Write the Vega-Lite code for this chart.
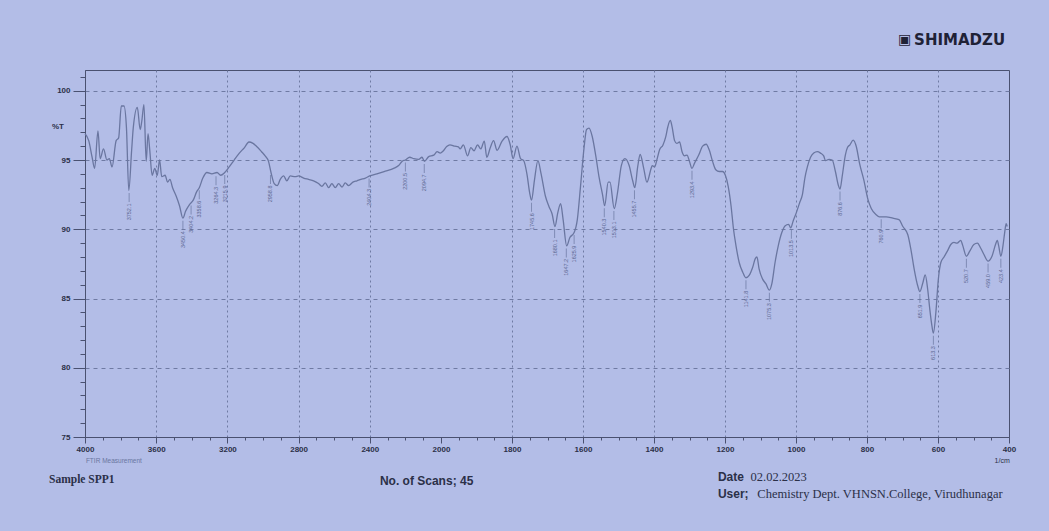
{
  "$schema": "https://vega.github.io/schema/vega-lite/v6.json",
  "autosize": {"type": "none"},
  "width": 924,
  "height": 367,
  "padding": {"left": 85, "top": 70, "right": 40, "bottom": 94},
  "background": "#b3bde7",
  "config": {
    "view": {"stroke": "#4a5170", "strokeWidth": 1},
    "font": "Liberation Sans"
  },
  "datasets": {
    "spectrum": [
      {"wn":4000,"t":96.9},{"wn":3979,"t":96.4},{"wn":3960,"t":95.2},{"wn":3946,"t":94.4},{"wn":3927,"t":97.1},{"wn":3915,"t":95.1},{"wn":3896,"t":95.8},{"wn":3877,"t":95.0},{"wn":3863,"t":95.1},{"wn":3848,"t":94.5},{"wn":3825,"t":96.4},{"wn":3811,"t":96.6},{"wn":3796,"t":98.9},{"wn":3781,"t":98.9},{"wn":3767,"t":97.3},{"wn":3754,"t":92.8},{"wn":3738,"t":95.7},{"wn":3729,"t":97.3},{"wn":3706,"t":98.8},{"wn":3690,"t":97.2},{"wn":3681,"t":97.8},{"wn":3669,"t":99.0},{"wn":3656,"t":94.9},{"wn":3646,"t":96.9},{"wn":3636,"t":95.7},{"wn":3623,"t":93.9},{"wn":3608,"t":94.4},{"wn":3594,"t":93.9},{"wn":3581,"t":95.0},{"wn":3569,"t":93.8},{"wn":3550,"t":93.9},{"wn":3536,"t":93.4},{"wn":3523,"t":93.6},{"wn":3508,"t":93.0},{"wn":3488,"t":92.4},{"wn":3469,"t":91.7},{"wn":3450,"t":90.8},{"wn":3435,"t":91.3},{"wn":3412,"t":91.8},{"wn":3392,"t":92.1},{"wn":3373,"t":92.7},{"wn":3358,"t":93.0},{"wn":3338,"t":93.7},{"wn":3315,"t":94.1},{"wn":3287,"t":94.0},{"wn":3258,"t":94.1},{"wn":3238,"t":93.9},{"wn":3215,"t":94.1},{"wn":3190,"t":94.5},{"wn":3162,"t":95.0},{"wn":3133,"t":95.5},{"wn":3104,"t":95.9},{"wn":3079,"t":96.3},{"wn":3056,"t":96.2},{"wn":3037,"t":96.0},{"wn":3008,"t":95.6},{"wn":2988,"t":95.3},{"wn":2969,"t":94.9},{"wn":2955,"t":94.1},{"wn":2937,"t":93.3},{"wn":2920,"t":93.15},{"wn":2903,"t":93.6},{"wn":2884,"t":93.85},{"wn":2866,"t":93.5},{"wn":2847,"t":93.85},{"wn":2819,"t":93.8},{"wn":2800,"t":93.85},{"wn":2772,"t":93.7},{"wn":2744,"t":93.6},{"wn":2716,"t":93.5},{"wn":2688,"t":93.3},{"wn":2669,"t":93.1},{"wn":2650,"t":93.35},{"wn":2631,"t":93.0},{"wn":2613,"t":93.3},{"wn":2594,"t":93.0},{"wn":2575,"t":93.3},{"wn":2556,"t":93.05},{"wn":2538,"t":93.35},{"wn":2519,"t":93.15},{"wn":2495,"t":93.4},{"wn":2472,"t":93.5},{"wn":2450,"t":93.6},{"wn":2425,"t":93.7},{"wn":2401,"t":93.85},{"wn":2360,"t":94.0},{"wn":2313,"t":94.2},{"wn":2266,"t":94.4},{"wn":2238,"t":94.6},{"wn":2219,"t":94.9},{"wn":2200,"t":95.0},{"wn":2176,"t":95.2},{"wn":2153,"t":95.1},{"wn":2125,"t":95.05},{"wn":2107,"t":95.2},{"wn":2093,"t":94.9},{"wn":2069,"t":95.25},{"wn":2041,"t":95.35},{"wn":2022,"t":95.6},{"wn":2004,"t":95.5},{"wn":1994,"t":95.65},{"wn":1984,"t":95.97},{"wn":1975,"t":96.1},{"wn":1961,"t":96.0},{"wn":1951,"t":95.95},{"wn":1946,"t":95.8},{"wn":1937,"t":96.1},{"wn":1925,"t":95.3},{"wn":1916,"t":95.9},{"wn":1907,"t":95.66},{"wn":1897,"t":96.1},{"wn":1888,"t":95.8},{"wn":1878,"t":96.37},{"wn":1871,"t":95.2},{"wn":1861,"t":95.9},{"wn":1852,"t":96.4},{"wn":1842,"t":95.7},{"wn":1828,"t":96.37},{"wn":1814,"t":96.7},{"wn":1805,"t":96.1},{"wn":1797,"t":95.1},{"wn":1786,"t":96.0},{"wn":1776,"t":95.1},{"wn":1767,"t":94.95},{"wn":1758,"t":94.0},{"wn":1750,"t":92.6},{"wn":1745,"t":92.1},{"wn":1737,"t":93.5},{"wn":1727,"t":94.95},{"wn":1718,"t":94.0},{"wn":1706,"t":92.4},{"wn":1696,"t":91.65},{"wn":1687,"t":91.1},{"wn":1679,"t":90.2},{"wn":1671,"t":91.2},{"wn":1663,"t":91.85},{"wn":1656,"t":90.7},{"wn":1646,"t":88.8},{"wn":1637,"t":89.4},{"wn":1625,"t":89.76},{"wn":1616,"t":90.7},{"wn":1607,"t":93.1},{"wn":1597,"t":95.9},{"wn":1590,"t":97.2},{"wn":1583,"t":97.3},{"wn":1574,"t":96.7},{"wn":1564,"t":95.3},{"wn":1555,"t":93.8},{"wn":1545,"t":92.5},{"wn":1539,"t":91.7},{"wn":1529,"t":93.4},{"wn":1524,"t":93.4},{"wn":1512,"t":91.5},{"wn":1503,"t":92.6},{"wn":1492,"t":94.6},{"wn":1482,"t":95.1},{"wn":1470,"t":94.6},{"wn":1460,"t":93.5},{"wn":1454,"t":93.0},{"wn":1446,"t":94.5},{"wn":1439,"t":95.4},{"wn":1429,"t":94.4},{"wn":1420,"t":93.4},{"wn":1408,"t":94.4},{"wn":1405,"t":94.6},{"wn":1398,"t":94.5},{"wn":1392,"t":95.0},{"wn":1384,"t":95.76},{"wn":1375,"t":96.07},{"wn":1367,"t":96.67},{"wn":1361,"t":97.4},{"wn":1354,"t":97.86},{"wn":1349,"t":97.4},{"wn":1342,"t":96.4},{"wn":1336,"t":96.2},{"wn":1328,"t":96.3},{"wn":1321,"t":95.6},{"wn":1314,"t":95.3},{"wn":1307,"t":95.36},{"wn":1300,"t":94.9},{"wn":1293,"t":94.4},{"wn":1286,"t":94.76},{"wn":1274,"t":95.36},{"wn":1263,"t":96.0},{"wn":1253,"t":96.14},{"wn":1244,"t":95.7},{"wn":1235,"t":94.9},{"wn":1226,"t":94.3},{"wn":1216,"t":94.17},{"wn":1207,"t":94.17},{"wn":1199,"t":93.9},{"wn":1191,"t":93.1},{"wn":1183,"t":91.7},{"wn":1176,"t":90.0},{"wn":1169,"t":88.8},{"wn":1160,"t":87.6},{"wn":1150,"t":86.9},{"wn":1141,"t":86.5},{"wn":1132,"t":86.67},{"wn":1122,"t":87.26},{"wn":1115,"t":87.86},{"wn":1110,"t":88.0},{"wn":1104,"t":87.14},{"wn":1094,"t":86.4},{"wn":1085,"t":86.07},{"wn":1075,"t":85.6},{"wn":1068,"t":86.07},{"wn":1059,"t":87.6},{"wn":1050,"t":88.8},{"wn":1040,"t":89.76},{"wn":1031,"t":90.24},{"wn":1021,"t":90.36},{"wn":1015,"t":90.1},{"wn":1008,"t":90.6},{"wn":999,"t":91.2},{"wn":990,"t":91.9},{"wn":982,"t":92.5},{"wn":975,"t":93.7},{"wn":968,"t":94.5},{"wn":959,"t":95.2},{"wn":950,"t":95.5},{"wn":940,"t":95.6},{"wn":931,"t":95.5},{"wn":922,"t":95.3},{"wn":917,"t":94.95},{"wn":907,"t":95.05},{"wn":898,"t":95.0},{"wn":889,"t":94.17},{"wn":881,"t":93.2},{"wn":876,"t":92.9},{"wn":870,"t":93.8},{"wn":861,"t":95.36},{"wn":855,"t":95.9},{"wn":848,"t":96.1},{"wn":839,"t":96.44},{"wn":830,"t":95.96},{"wn":821,"t":94.76},{"wn":809,"t":93.56},{"wn":797,"t":92.12},{"wn":788,"t":91.5},{"wn":774,"t":91.04},{"wn":765,"t":90.9},{"wn":746,"t":90.9},{"wn":727,"t":90.8},{"wn":710,"t":90.7},{"wn":699,"t":90.2},{"wn":685,"t":89.6},{"wn":676,"t":88.5},{"wn":667,"t":87.1},{"wn":657,"t":85.9},{"wn":651,"t":85.5},{"wn":643,"t":86.1},{"wn":636,"t":86.7},{"wn":629,"t":85.65},{"wn":623,"t":84.2},{"wn":617,"t":83.0},{"wn":613,"t":82.5},{"wn":606,"t":84.0},{"wn":599,"t":86.4},{"wn":592,"t":87.6},{"wn":583,"t":88.0},{"wn":574,"t":88.4},{"wn":564,"t":88.9},{"wn":555,"t":89.05},{"wn":546,"t":89.0},{"wn":536,"t":89.2},{"wn":530,"t":88.8},{"wn":520,"t":88.05},{"wn":511,"t":88.4},{"wn":499,"t":88.9},{"wn":489,"t":89.0},{"wn":480,"t":88.65},{"wn":471,"t":88.2},{"wn":459,"t":87.7},{"wn":448,"t":88.05},{"wn":438,"t":88.9},{"wn":433,"t":89.2},{"wn":429,"t":88.8},{"wn":423,"t":88.05},{"wn":417,"t":88.8},{"wn":412,"t":89.8},{"wn":408,"t":90.4},{"wn":405,"t":90.2}
    ],
    "peaks": [
      {"wn":3752,"t":92.8,"label":"3752.1"},{"wn":3450,"t":90.8,"label":"3450.4"},{"wn":3404,"t":91.9,"label":"3404.2"},{"wn":3358,"t":93.0,"label":"3358.6"},{"wn":3264,"t":94.0,"label":"3264.3"},{"wn":3215,"t":94.1,"label":"3215.9"},{"wn":2958,"t":94.1,"label":"2958.8"},{"wn":2404,"t":93.85,"label":"2404.3"},{"wn":2200,"t":95.0,"label":"2200.5"},{"wn":2094,"t":94.9,"label":"2094.7"},{"wn":1745,"t":92.1,"label":"1745.6"},{"wn":1680,"t":90.2,"label":"1680.1"},{"wn":1647,"t":88.8,"label":"1647.2"},{"wn":1625,"t":89.76,"label":"1625.9"},{"wn":1540,"t":91.7,"label":"1540.3"},{"wn":1513,"t":91.5,"label":"1513.1"},{"wn":1455,"t":93.0,"label":"1455.7"},{"wn":1293,"t":94.4,"label":"1293.4"},{"wn":1141,"t":86.5,"label":"1141.8"},{"wn":1075,"t":85.6,"label":"1075.3"},{"wn":1013,"t":90.15,"label":"1013.5"},{"wn":876,"t":92.9,"label":"876.6"},{"wn":760,"t":90.9,"label":"760.9"},{"wn":651,"t":85.5,"label":"651.9"},{"wn":613,"t":82.5,"label":"613.3"},{"wn":520,"t":88.05,"label":"520.7"},{"wn":459,"t":87.7,"label":"459.0"},{"wn":423,"t":88.05,"label":"423.4"}
    ]
  },
  "encoding": {
    "x": {
      "field": "wn", "type": "quantitative",
      "scale": {"type": "linear", "domain": [4000, 2000, 400], "range": [0, 356, 924], "nice": false, "zero": false},
      "axis": {
        "title": null,
        "values": [4000,3900,3800,3700,3600,3500,3400,3300,3200,3100,3000,2900,2800,2700,2600,2500,2400,2300,2200,2100,2000,1950,1900,1850,1800,1750,1700,1650,1600,1550,1500,1450,1400,1350,1300,1250,1200,1150,1100,1050,1000,950,900,850,800,750,700,650,600,550,500,450,400],
        "labelExpr": "((datum.value >= 2000 && datum.value % 400 == 0) || (datum.value <= 2000 && datum.value % 200 == 0)) ? toString(datum.value) : ''",
        "labelOverlap": false,
        "labelFlush": false,
        "labelFontSize": 8,
        "labelFontWeight": "bold",
        "labelColor": "#2b3048",
        "labelPadding": 2,
        "domainColor": "#4a5170",
        "tickColor": "#4a5170",
        "tickSize": {"condition": {"test": "(datum.value >= 2000 && datum.value % 400 == 0) || (datum.value <= 2000 && datum.value % 200 == 0)", "value": 6}, "value": 3},
        "grid": true,
        "gridColor": "#6f7aa3",
        "gridDash": [2, 3],
        "gridWidth": 1,
        "gridOpacity": {"condition": {"test": "datum.value != 2000 && datum.value != 4000 && datum.value != 400 && ((datum.value >= 2000 && datum.value % 400 == 0) || (datum.value <= 2000 && datum.value % 200 == 0))", "value": 1}, "value": 0}
      }
    },
    "y": {
      "field": "t", "type": "quantitative",
      "scale": {"domain": [75, 101.5], "nice": false, "zero": false},
      "axis": {
        "title": null,
        "values": [75,76,77,78,79,80,81,82,83,84,85,86,87,88,89,90,91,92,93,94,95,96,97,98,99,100,101],
        "labelExpr": "datum.value % 5 == 0 ? toString(datum.value) : ''",
        "labelOverlap": false,
        "labelFlush": false,
        "labelFontSize": 8,
        "labelFontWeight": "bold",
        "labelColor": "#2b3048",
        "labelPadding": 3,
        "domainColor": "#4a5170",
        "tickColor": "#4a5170",
        "tickSize": {"condition": {"test": "datum.value % 5 == 0", "value": 12}, "value": 5},
        "grid": true,
        "gridColor": "#6f7aa3",
        "gridDash": [4, 4],
        "gridWidth": 1,
        "gridOpacity": {"condition": {"test": "datum.value % 5 == 0 && datum.value > 75", "value": 1}, "value": 0}
      }
    }
  },
  "layer": [
    {
      "data": {"values": [{"wn": 2000}]},
      "mark": {"type": "rule", "color": "#4a5170", "strokeWidth": 1.5},
      "encoding": {"y": {"datum": 75}, "y2": {"datum": 101.5}}
    },
    {
      "data": {"values": [{"wn": 400}]},
      "mark": {"type": "rule", "color": "#4a5170", "strokeWidth": 2},
      "encoding": {"y": {"datum": 75}, "y2": {"datum": 101.5}}
    },
    {
      "data": {"name": "spectrum"},
      "mark": {"type": "line", "color": "#6a76a0", "strokeWidth": 1.3, "interpolate": "monotone"},
      "encoding": {}
    },
    {
      "data": {"name": "peaks"},
      "mark": {"type": "tick", "orient": "vertical", "size": 9, "thickness": 1, "color": "#6a76a0", "yOffset": 7},
      "encoding": {}
    },
    {
      "data": {"name": "peaks"},
      "mark": {"type": "text", "angle": 270, "align": "right", "baseline": "middle", "fontSize": 5.5, "color": "#5d6892", "yOffset": 13},
      "encoding": {"text": {"field": "label"}}
    },
    {
      "data": {"values": [{"wn": 4152, "t": 97.4, "txt": "%T"}]},
      "mark": {"type": "text", "align": "center", "baseline": "middle", "fontSize": 8, "fontWeight": "bold", "color": "#2b3048"},
      "encoding": {"text": {"field": "txt"}}
    },
    {
      "data": {"values": [{"wn": 3995, "t": 73.3, "txt": "FTIR Measurement"}]},
      "mark": {"type": "text", "align": "left", "baseline": "middle", "fontSize": 6.5, "color": "#6a76a0"},
      "encoding": {"text": {"field": "txt"}}
    },
    {
      "data": {"values": [{"wn": 398, "t": 73.3, "txt": "1/cm"}]},
      "mark": {"type": "text", "align": "right", "baseline": "middle", "fontSize": 7, "color": "#2b3048"},
      "encoding": {"text": {"field": "txt"}}
    },
    {
      "data": {"values": [{"wn": 4202, "t": 71.9, "txt": "Sample SPP1"}]},
      "mark": {"type": "text", "align": "left", "baseline": "middle", "fontSize": 11.5, "font": "Liberation Serif", "fontWeight": "bold", "color": "#2b3048"},
      "encoding": {"text": {"field": "txt"}}
    },
    {
      "data": {"values": [
        {"wn": 2343, "t": 71.85, "txt": "No. of Scans; 45"},
        {"wn": 1220, "t": 72.1, "txt": "Date"},
        {"wn": 1220, "t": 70.85, "txt": "User;"}
      ]},
      "mark": {"type": "text", "align": "left", "baseline": "middle", "fontSize": 12, "fontWeight": "bold", "color": "#2b3048"},
      "encoding": {"text": {"field": "txt"}}
    },
    {
      "data": {"values": [
        {"wn": 1128, "t": 72.1, "txt": "02.02.2023"},
        {"wn": 1109, "t": 70.85, "txt": "Chemistry Dept. VHNSN.College, Virudhunagar"}
      ]},
      "mark": {"type": "text", "align": "left", "baseline": "middle", "fontSize": 12.5, "font": "Liberation Serif", "color": "#2b3048"},
      "encoding": {"text": {"field": "txt"}}
    },
    {
      "data": {"values": [{"wn": 411, "t": 103.67, "txt": "SHIMADZU"}]},
      "mark": {"type": "text", "align": "right", "baseline": "middle", "fontSize": 15, "font": "DejaVu Sans", "fontWeight": "bold", "color": "#1f2236"},
      "encoding": {"text": {"field": "txt"}}
    },
    {
      "data": {"values": [{"wn": 694, "t": 103.67, "txt": "▣"}]},
      "mark": {"type": "text", "align": "center", "baseline": "middle", "fontSize": 14, "font": "DejaVu Sans", "color": "#1f2236"},
      "encoding": {"text": {"field": "txt"}}
    }
  ]
}
